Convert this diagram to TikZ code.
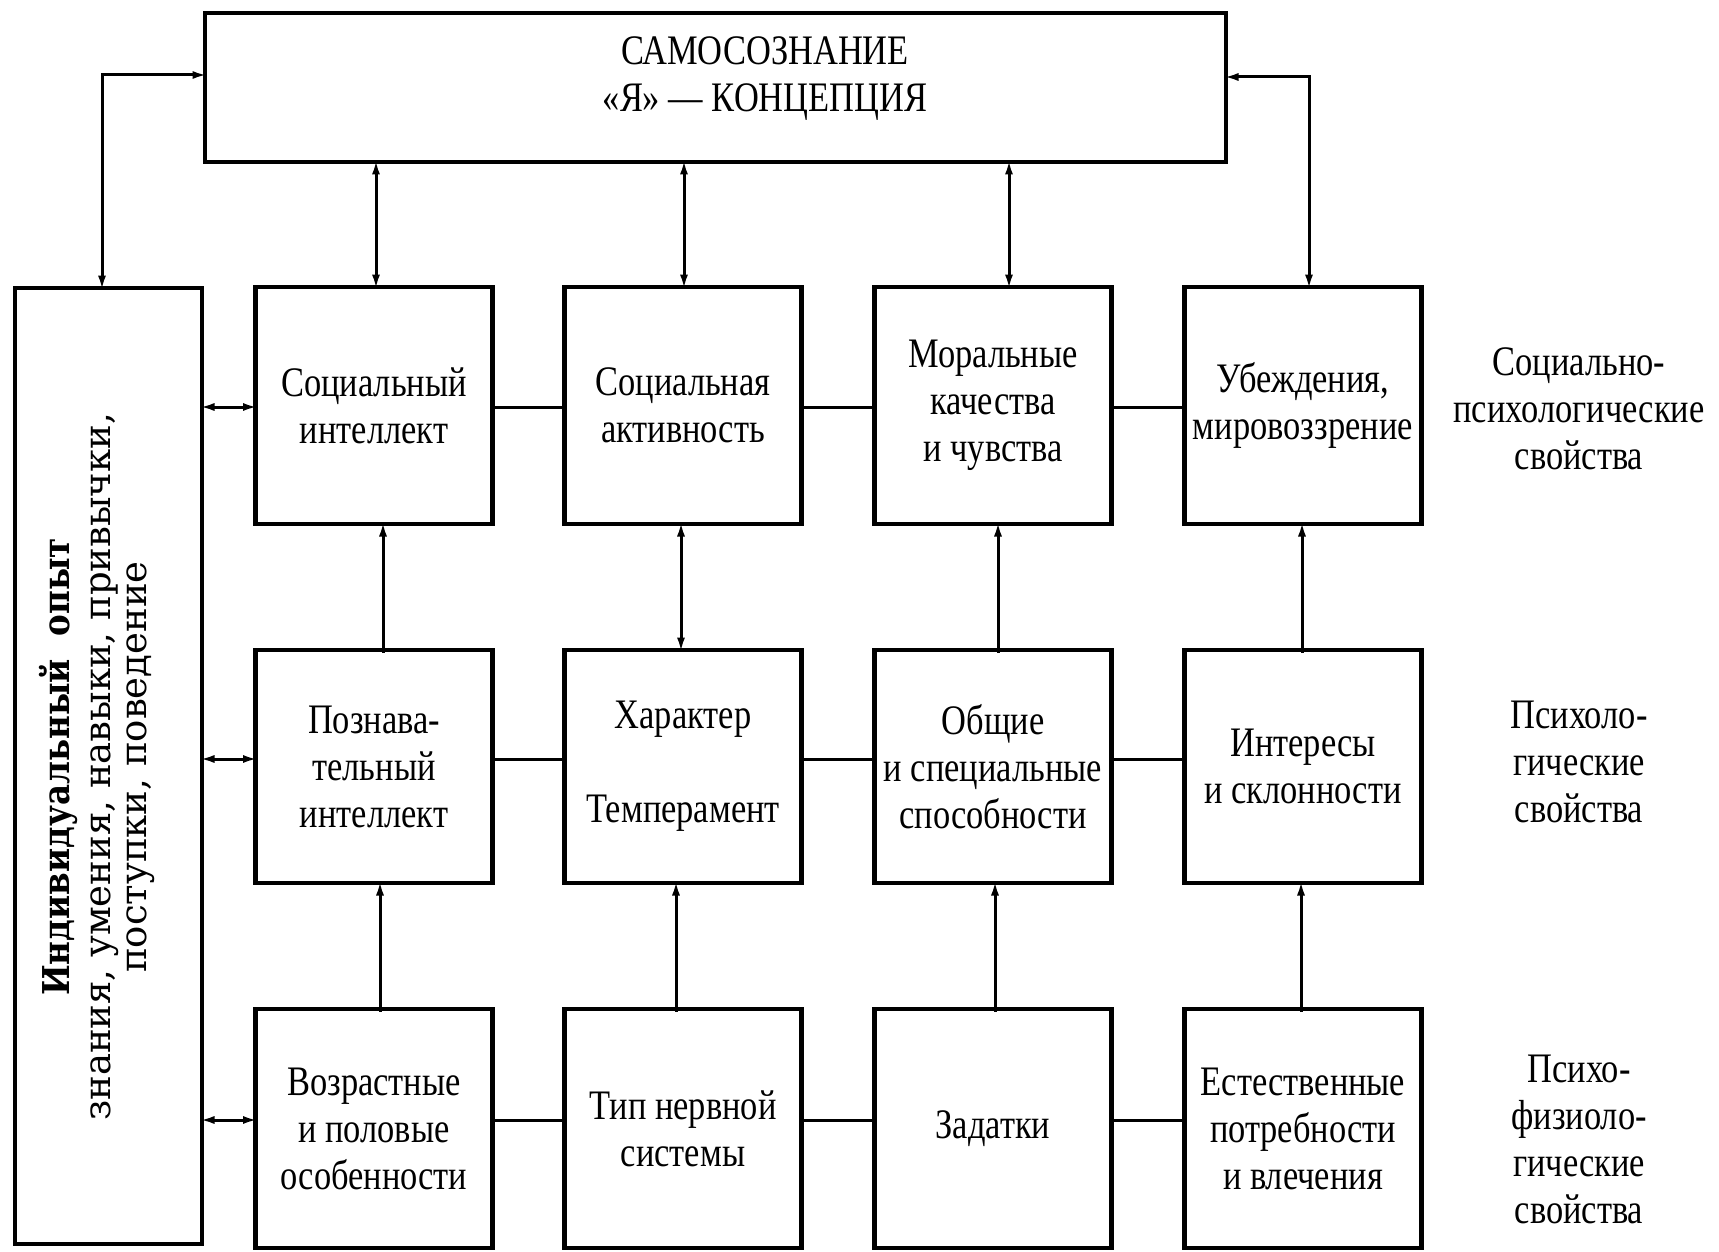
\documentclass[tikz,border=0pt]{standalone}
\usepackage{fontspec}
\setmainfont{Liberation Serif}[FakeStretch=0.82]
\newfontfamily\leftfont{DejaVu Serif}
\newfontfamily\leftbold{DejaVu Serif}[FakeStretch=0.88]
\usetikzlibrary{arrows.meta}
\tikzset{
  bx/.style={draw, line width=4.5pt, minimum width=237pt, inner sep=0pt, outer sep=0pt, align=center,
    font=\fontsize{42}{47}\selectfont},
  lbl/.style={align=center, inner sep=0pt, font=\fontsize{42}{47}\selectfont},
  cn/.style={line width=3pt, shorten >=-2.5pt, shorten <=-2.5pt},
  >={Latex[length=15pt,width=8pt]}
}
\begin{document}
\begin{tikzpicture}[x=1pt,y=-1pt]
\fill[white] (0,0) rectangle (1719,1252);
\useasboundingbox (0,0) rectangle (1719,1252);

% top box
\node[draw, line width=4.5pt, minimum width=1021pt, minimum height=149pt, inner sep=0pt, outer sep=0pt] (top) at (715.5,87.5) {};
\node[lbl] (title) at (765,79) {САМОСОЗНАНИЕ\\«Я» — КОНЦЕПЦИЯ};

% left box
\node[draw, line width=4.5pt, minimum width=187pt, minimum height=956pt, inner sep=0pt, outer sep=0pt] (L) at (108.5,766) {};
\node[rotate=90, align=center, inner sep=0pt, font=\leftfont\fontsize{37}{36}\selectfont] (Ltxt) at (97,767)
  {{\leftbold\bfseries Индивидуальный\ \ опыт}\\[5pt] знания, умения, навыки, привычки,\\ поступки, поведение};

% row 1
\node[bx, minimum height=237pt] (r1c1) at (374,405.5) {Социальный\\интеллект};
\node[bx, minimum height=237pt] (r1c2) at (683,405.5) {Социальная\\активность};
\node[bx, minimum height=237pt] (r1c3) at (993,405.5) {Моральные\\качества\\и чувства};
\node[bx, minimum height=237pt] (r1c4) at (1303,405.5) {Убеждения,\\мировоззрение};
% row 2
\node[bx, minimum height=233pt] (r2c1) at (374,766.5) {Познава-\\тельный\\интеллект};
\node[bx, minimum height=233pt] (r2c2) at (683,766.5) {Характер\\[47pt]Темперамент};
\node[bx, minimum height=233pt] (r2c3) at (993,766.5) {Общие\\и специальные\\способности};
\node[bx, minimum height=233pt] (r2c4) at (1303,766.5) {Интересы\\и склонности};
% row 3
\node[bx, minimum height=239pt] (r3c1) at (374,1128.5) {Возрастные\\и половые\\особенности};
\node[bx, minimum height=239pt] (r3c2) at (683,1128.5) {Тип нервной\\системы};
\node[bx, minimum height=239pt] (r3c3) at (993,1128.5) {Задатки};
\node[bx, minimum height=239pt] (r3c4) at (1303,1128.5) {Естественные\\потребности\\и влечения};

% right labels
\node[lbl] (s1) at (1579,409) {Социально-\\психологические\\свойства};
\node[lbl] (s2) at (1579,762) {Психоло-\\гические\\свойства};
\node[lbl] (s3) at (1579,1139) {Психо-\\физиоло-\\гические\\свойства};

% helper coordinates
\coordinate (h1) at (0,407);
\coordinate (h2) at (0,759);
\coordinate (h3) at (0,1120);
\coordinate (lk) at (102,75);
\coordinate (rk) at (1309,77);
\coordinate (t1) at (376,0);
\coordinate (t2) at (684,0);
\coordinate (t3) at (1009,0);
\coordinate (u1) at (383,0);
\coordinate (u2) at (681,0);
\coordinate (u3) at (998,0);
\coordinate (u4) at (1302,0);
\coordinate (w1) at (380,0);
\coordinate (w2) at (676,0);
\coordinate (w3) at (995,0);
\coordinate (w4) at (1301,0);

% loops to top box
\draw[cn,<->] (L.north -| lk) |- (top.west |- lk);
\draw[cn,<->] (top.east |- rk) -| (r1c4.north -| rk);
% top to row 1
\draw[cn,<->] (top.south -| t1) -- (r1c1.north -| t1);
\draw[cn,<->] (top.south -| t2) -- (r1c2.north -| t2);
\draw[cn,<->] (top.south -| t3) -- (r1c3.north -| t3);

% horizontals
\draw[cn,<->] (L.east |- h1) -- (r1c1.west |- h1);
\draw[cn] (r1c1.east |- h1) -- (r1c2.west |- h1);
\draw[cn] (r1c2.east |- h1) -- (r1c3.west |- h1);
\draw[cn] (r1c3.east |- h1) -- (r1c4.west |- h1);
\draw[cn,<->] (L.east |- h2) -- (r2c1.west |- h2);
\draw[cn] (r2c1.east |- h2) -- (r2c2.west |- h2);
\draw[cn] (r2c2.east |- h2) -- (r2c3.west |- h2);
\draw[cn] (r2c3.east |- h2) -- (r2c4.west |- h2);
\draw[cn,<->] (L.east |- h3) -- (r3c1.west |- h3);
\draw[cn] (r3c1.east |- h3) -- (r3c2.west |- h3);
\draw[cn] (r3c2.east |- h3) -- (r3c3.west |- h3);
\draw[cn] (r3c3.east |- h3) -- (r3c4.west |- h3);

% row 2 to row 1
\draw[cn,->] (r2c1.north -| u1) -- (r1c1.south -| u1);
\draw[cn,<->] (r2c2.north -| u2) -- (r1c2.south -| u2);
\draw[cn,->] (r2c3.north -| u3) -- (r1c3.south -| u3);
\draw[cn,->] (r2c4.north -| u4) -- (r1c4.south -| u4);
% row 3 to row 2
\draw[cn,->] (r3c1.north -| w1) -- (r2c1.south -| w1);
\draw[cn,->] (r3c2.north -| w2) -- (r2c2.south -| w2);
\draw[cn,->] (r3c3.north -| w3) -- (r2c3.south -| w3);
\draw[cn,->] (r3c4.north -| w4) -- (r2c4.south -| w4);
\end{tikzpicture}
\end{document}
